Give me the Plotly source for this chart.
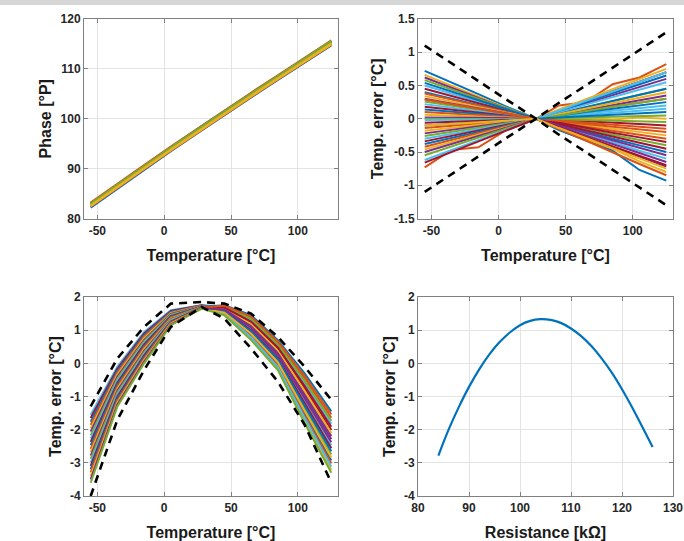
import plotly.graph_objects as go

# ---------------- data ----------------
temps = [-55, -35, -15, 5, 28, 45, 65, 85, 105, 125]

phase_lines = [
    [82.2, 86.0, 89.8, 93.5, 97.7, 100.8, 104.3, 107.8, 111.2, 114.7],
    [82.4, 86.2, 89.9, 93.6, 97.8, 100.9, 104.4, 107.9, 111.3, 114.8],
    [82.5, 86.3, 90.1, 93.8, 98.0, 101.1, 104.6, 108.1, 111.6, 115.1],
    [82.7, 86.5, 90.3, 94.0, 98.2, 101.3, 104.8, 108.3, 111.8, 115.2],
    [82.9, 86.7, 90.4, 94.1, 98.3, 101.4, 104.9, 108.4, 111.9, 115.3],
    [83.0, 86.8, 90.6, 94.3, 98.5, 101.6, 105.1, 108.6, 112.1, 115.5],
    [83.2, 87.0, 90.7, 94.4, 98.6, 101.7, 105.2, 108.7, 112.2, 115.7],
    [82.6, 86.4, 90.2, 93.9, 98.1, 101.2, 104.7, 108.2, 111.7, 115.2],
    [82.8, 86.6, 90.4, 94.1, 98.3, 101.4, 104.9, 108.4, 111.9, 115.4],
    [82.5, 86.3, 90.0, 93.7, 97.9, 101.0, 104.5, 108.0, 111.5, 114.9],
    [83.0, 86.8, 90.5, 94.2, 98.4, 101.5, 105.0, 108.5, 112.0, 115.5],
    [82.7, 86.5, 90.2, 93.9, 98.1, 101.2, 104.7, 108.2, 111.7, 115.1],
    [82.9, 86.7, 90.5, 94.2, 98.4, 101.5, 105.0, 108.5, 112.0, 115.6],
    [82.6, 86.4, 90.1, 93.8, 98.0, 101.1, 104.6, 108.1, 111.6, 115.0],
]

err_lines = [
    [0.72, 0.55, 0.37, 0.19, 0.0, -0.17, -0.33, -0.48, -0.77, -0.93],
    [-0.73, -0.47, -0.43, -0.18, 0.0, 0.20, 0.25, 0.52, 0.62, 0.82],
    [0.66, 0.50, 0.34, 0.17, 0.0, -0.15, -0.30, -0.45, -0.64, -0.80],
    [0.62, 0.47, 0.31, 0.16, 0.0, -0.13, -0.28, -0.43, -0.57, -0.72],
    [0.58, 0.44, 0.30, 0.15, 0.0, 0.08, 0.17, 0.27, 0.36, 0.45],
    [0.50, 0.38, 0.26, 0.13, 0.0, -0.11, -0.23, -0.35, -0.48, -0.60],
    [0.45, 0.34, 0.23, 0.12, 0.0, 0.13, 0.27, 0.41, 0.56, 0.70],
    [0.40, 0.30, 0.20, 0.11, 0.0, -0.09, -0.20, -0.30, -0.40, -0.50],
    [0.38, 0.29, 0.19, 0.10, 0.0, 0.05, 0.12, 0.18, 0.24, 0.30],
    [0.34, 0.26, 0.17, 0.09, 0.0, -0.05, -0.10, -0.15, -0.20, -0.25],
    [0.30, 0.23, 0.15, 0.08, 0.0, 0.11, 0.23, 0.35, 0.48, 0.60],
    [0.26, 0.20, 0.13, 0.07, 0.0, -0.07, -0.16, -0.24, -0.32, -0.40],
    [0.22, 0.17, 0.11, 0.06, 0.0, 0.04, 0.08, 0.12, 0.16, 0.20],
    [0.18, 0.14, 0.09, 0.05, 0.0, -0.02, -0.04, -0.06, -0.08, -0.10],
    [0.14, 0.11, 0.07, 0.04, 0.0, 0.08, 0.18, 0.27, 0.36, 0.45],
    [0.10, 0.08, 0.05, 0.03, 0.0, -0.05, -0.12, -0.18, -0.24, -0.30],
    [0.06, 0.05, 0.03, 0.02, 0.0, 0.00, 0.01, -0.01, 0.02, 0.00],
    [0.02, 0.02, 0.01, 0.01, 0.0, 0.06, 0.14, 0.21, 0.28, 0.35],
    [0.00, 0.00, 0.00, 0.00, 0.0, -0.01, -0.02, -0.03, -0.04, -0.05],
    [-0.02, -0.02, -0.01, -0.01, 0.0, 0.03, 0.06, 0.09, 0.12, 0.15],
    [-0.06, -0.05, -0.03, -0.02, 0.0, -0.08, -0.18, -0.27, -0.36, -0.45],
    [-0.10, -0.08, -0.05, -0.03, 0.0, 0.05, 0.10, 0.15, 0.20, 0.25],
    [-0.14, -0.11, -0.07, -0.04, 0.0, -0.04, -0.08, -0.12, -0.16, -0.20],
    [-0.18, -0.14, -0.09, -0.05, 0.0, 0.07, 0.16, 0.24, 0.32, 0.40],
    [-0.22, -0.17, -0.11, -0.06, 0.0, -0.12, -0.25, -0.38, -0.52, -0.65],
    [-0.26, -0.20, -0.13, -0.07, 0.0, 0.01, 0.02, 0.03, 0.04, 0.05],
    [-0.30, -0.23, -0.15, -0.08, 0.0, 0.10, 0.21, 0.32, 0.44, 0.55],
    [-0.34, -0.26, -0.17, -0.09, 0.0, -0.06, -0.14, -0.21, -0.28, -0.35],
    [-0.38, -0.29, -0.19, -0.10, 0.0, 0.12, 0.25, 0.38, 0.52, 0.65],
    [-0.42, -0.32, -0.21, -0.11, 0.0, -0.03, -0.06, -0.09, -0.12, -0.15],
    [-0.46, -0.35, -0.23, -0.12, 0.0, 0.14, 0.29, 0.44, 0.60, 0.75],
    [-0.50, -0.38, -0.26, -0.13, 0.0, -0.10, -0.21, -0.32, -0.44, -0.55],
    [-0.55, -0.42, -0.28, -0.15, 0.0, 0.05, 0.12, 0.18, 0.24, 0.30],
    [-0.62, -0.47, -0.32, -0.17, 0.0, 0.13, 0.27, 0.41, 0.56, 0.70],
    [-0.66, -0.50, -0.34, -0.18, 0.0, -0.13, -0.27, -0.41, -0.56, -0.70],
    [0.54, 0.41, 0.28, 0.15, 0.0, 0.02, 0.04, 0.06, 0.08, 0.10],
    [0.29, 0.22, 0.15, 0.08, 0.0, -0.15, -0.33, -0.50, -0.68, -0.85],
    [-0.10, -0.08, -0.05, -0.03, 0.0, -0.14, -0.29, -0.44, -0.60, -0.75],
]
err_bound_hi = [1.10, 0.83, 0.56, 0.30, 0.0, -0.24, -0.50, -0.77, -1.04, -1.30]
err_bound_lo = [-1.10, -0.83, -0.56, -0.30, 0.0, 0.24, 0.50, 0.77, 1.04, 1.30]

uncal_lines = [
    [-1.55, -0.10, 0.95, 1.60, 1.75, 1.59, 1.04, 0.21, -1.13, -2.47],
    [-1.65, -0.16, 0.90, 1.58, 1.75, 1.66, 1.23, 0.43, -0.75, -2.01],
    [-1.76, -0.22, 0.86, 1.56, 1.74, 1.51, 0.85, -0.02, -1.50, -2.93],
    [-1.86, -0.28, 0.81, 1.53, 1.74, 1.72, 1.38, 0.61, -0.45, -1.64],
    [-1.96, -0.34, 0.76, 1.51, 1.73, 1.47, 0.74, -0.15, -1.73, -3.21],
    [-2.06, -0.40, 0.71, 1.49, 1.73, 1.63, 1.15, 0.34, -0.90, -2.19],
    [-2.17, -0.46, 0.67, 1.47, 1.72, 1.54, 0.93, 0.07, -1.35, -2.75],
    [-2.27, -0.52, 0.62, 1.44, 1.72, 1.69, 1.30, 0.52, -0.60, -1.82],
    [-2.37, -0.58, 0.57, 1.42, 1.71, 1.57, 1.00, 0.16, -1.20, -2.56],
    [-2.47, -0.64, 0.52, 1.40, 1.71, 1.75, 1.45, 0.70, -0.30, -1.45],
    [-2.58, -0.70, 0.48, 1.38, 1.70, 1.50, 0.81, -0.06, -1.58, -3.02],
    [-2.68, -0.76, 0.43, 1.35, 1.70, 1.65, 1.19, 0.39, -0.83, -2.10],
    [-2.78, -0.82, 0.38, 1.33, 1.69, 1.60, 1.08, 0.25, -1.05, -2.38],
    [-2.88, -0.88, 0.33, 1.31, 1.69, 1.71, 1.34, 0.57, -0.53, -1.73],
    [-2.99, -0.94, 0.29, 1.29, 1.68, 1.48, 0.78, -0.11, -1.65, -3.12],
    [-3.09, -1.00, 0.24, 1.26, 1.68, 1.68, 1.26, 0.48, -0.68, -1.91],
    [-3.19, -1.06, 0.19, 1.24, 1.67, 1.56, 0.96, 0.12, -1.28, -2.65],
    [-3.29, -1.12, 0.14, 1.22, 1.67, 1.74, 1.41, 0.66, -0.38, -1.54],
    [-3.40, -1.18, 0.10, 1.20, 1.66, 1.53, 0.89, 0.03, -1.43, -2.84],
    [-3.50, -1.24, 0.05, 1.17, 1.66, 1.62, 1.11, 0.30, -0.98, -2.28],
    [-3.60, -1.30, 0.00, 1.15, 1.65, 1.45, 0.70, -0.20, -1.80, -3.30],
]
uncal_bound_hi = [-1.30, 0.15, 1.10, 1.80, 1.85, 1.80, 1.50, 0.80, -0.10, -1.10]
uncal_bound_lo = [-4.00, -1.70, -0.20, 1.10, 1.70, 1.35, 0.45, -0.55, -1.85, -3.60]

resistance = [84, 86, 88, 90, 92, 94, 96, 98, 100, 102, 104,
              106, 108, 110, 112, 114, 116, 118, 120, 122, 124, 126]
res_error = [-2.78, -2.00, -1.32, -0.71, -0.18, 0.27, 0.64, 0.93, 1.15, 1.28, 1.33,
             1.31, 1.22, 1.05, 0.82, 0.52, 0.15, -0.28, -0.78, -1.33, -1.92, -2.52]

temp_ticks = [-50, 0, 50, 100]
temp_ticktext = ["-50", "0", "50", "100"]
phase_ticks = [80, 90, 100, 110, 120]
err_ticks = [-1.5, -1, -0.5, 0, 0.5, 1, 1.5]
err_ticktext = ["-1.5", "-1", "-0.5", "0", "0.5", "1", "1.5"]
uncal_ticks = [-4, -3, -2, -1, 0, 1, 2]
uncal_ticktext = ["-4", "-3", "-2", "-1", "0", "1", "2"]
res_ticks = [80, 90, 100, 110, 120, 130]

matlab_colors = ["#0072BD", "#D95319", "#EDB120", "#7E2F8E",
                 "#77AC30", "#4DBEEE", "#A2142F"]
phase_colors = ["#0072BD", "#D95319", "#7E2F8E", "#4DBEEE", "#A2142F", "#0072BD",
                "#D95319", "#EDB120", "#77AC30", "#EDB120", "#77AC30", "#EDB120",
                "#77AC30", "#EDB120"]

# ---------------- figure ----------------
W, H = 684, 541
fig = go.Figure()

def add_lines(lines, xa, ya, colors, width=2.0):
    for i, ys in enumerate(lines):
        fig.add_trace(go.Scatter(
            x=temps, y=ys, mode="lines", xaxis=xa, yaxis=ya,
            line=dict(color=colors[i % len(colors)], width=width),
            showlegend=False, hoverinfo="skip"))

def add_dashed(ys, xa, ya):
    fig.add_trace(go.Scatter(
        x=temps, y=ys, mode="lines", xaxis=xa, yaxis=ya,
        line=dict(color="#000000", width=2.6, dash="8px,6px"),
        showlegend=False, hoverinfo="skip"))

add_lines(phase_lines, "x", "y", phase_colors, width=2.2)
add_lines(err_lines, "x2", "y2", matlab_colors)
add_dashed(err_bound_hi, "x2", "y2")
add_dashed(err_bound_lo, "x2", "y2")
add_lines(uncal_lines, "x3", "y3", matlab_colors[5:] + matlab_colors[:5])
add_dashed(uncal_bound_hi, "x3", "y3")
add_dashed(uncal_bound_lo, "x3", "y3")
fig.add_trace(go.Scatter(x=resistance, y=res_error, mode="lines", xaxis="x4", yaxis="y4",
                         line=dict(color="#0072BD", width=2.2, shape="spline"),
                         showlegend=False, hoverinfo="skip"))

FONT = "Liberation Sans"
tick_font = dict(family=FONT, size=12, color="#262626", weight="bold")
title_font = dict(family=FONT, size=16, color="#1a1a1a", weight="bold")

def axis(domain, rng, tickvals, ticktext, title, anchor, standoff, lab_standoff):
    return dict(domain=domain, range=rng, tickvals=tickvals, ticktext=ticktext,
                showgrid=True, gridcolor="#e3e3e3", gridwidth=1,
                showline=True, linecolor="#808080", linewidth=1, mirror="ticks",
                ticks="inside", ticklen=4, tickcolor="#808080",
                ticklabelstandoff=lab_standoff,
                tickfont=tick_font, zeroline=False, automargin=False,
                anchor=anchor, fixedrange=True,
                title=dict(text=title, font=title_font, standoff=standoff))

xL = [84 / W, 338 / W]
xR = [418 / W, 673 / W]
yT = [(H - 218.5) / H, (H - 19) / H]
yB = [(H - 496) / H, (H - 297) / H]

fig.update_layout(
    width=W, height=H, margin=dict(l=0, r=0, t=0, b=0),
    paper_bgcolor="white", plot_bgcolor="white", showlegend=False,
    xaxis=axis(xL, [-60, 130], temp_ticks, temp_ticktext, "Temperature [°C]", "y", 12, 1),
    yaxis=axis(yT, [80, 120], phase_ticks, [str(v) for v in phase_ticks], "Phase [°P]", "x", 4, 0),
    xaxis2=axis(xR, [-60, 130], temp_ticks, temp_ticktext, "Temperature [°C]", "y2", 12, 1),
    yaxis2=axis(yT, [-1.5, 1.5], err_ticks, err_ticktext, "Temp. error [°C]", "x2", 6, 0),
    xaxis3=axis(xL, [-60, 130], temp_ticks, temp_ticktext, "Temperature [°C]", "y3", 12, 1),
    yaxis3=axis(yB, [-4, 2], uncal_ticks, uncal_ticktext, "Temp. error [°C]", "x3", 4, 0),
    xaxis4=axis(xR, [80, 130], res_ticks, [str(v) for v in res_ticks], "Resistance [kΩ]", "y4", 12, 1),
    yaxis4=axis(yB, [-4, 2], uncal_ticks, uncal_ticktext, "Temp. error [°C]", "x4", 4, 0),
    shapes=[dict(type="rect", xref="paper", yref="paper", x0=0, x1=1,
                 y0=1 - 5 / H, y1=1, fillcolor="#d6d6d6", line=dict(width=0), layer="below")],
)

fig.write_html("out.html", config={"displayModeBar": False},
               post_script="document.body.style.margin='0px';document.body.style.overflow='hidden';")
